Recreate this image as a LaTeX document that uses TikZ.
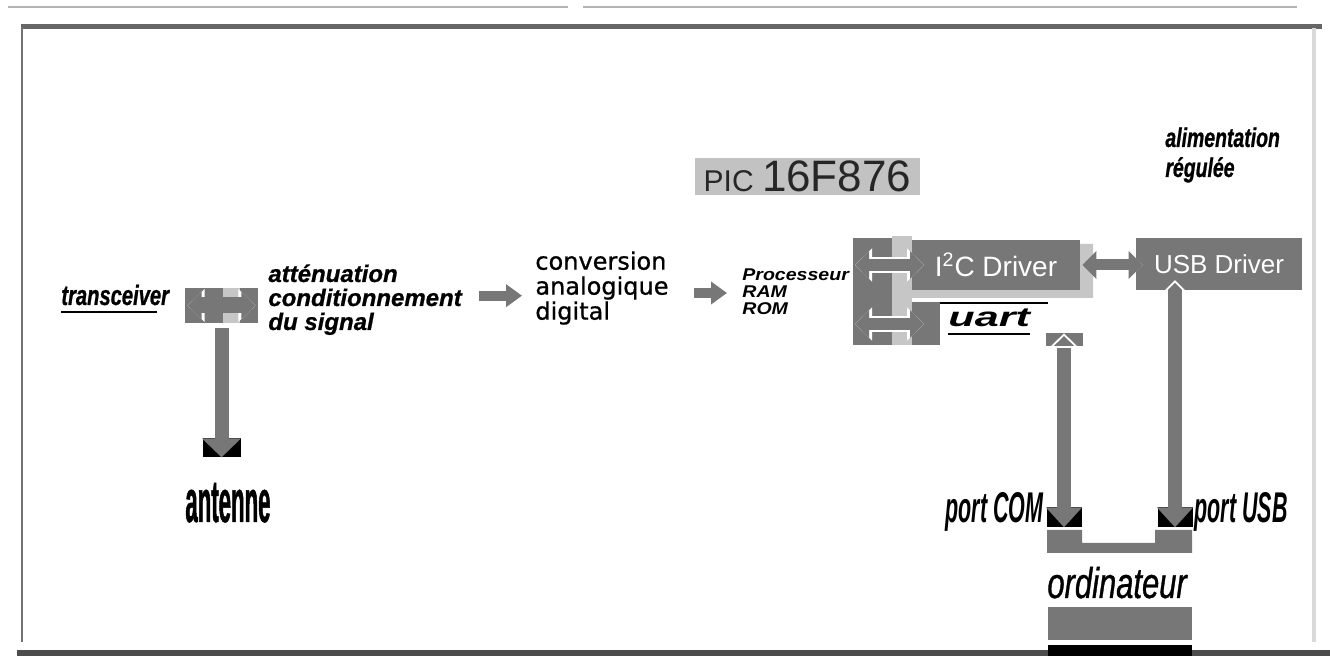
\documentclass[tikz,border=0pt]{standalone}
\usepackage{fontspec}
\setmainfont{Liberation Sans}
\newfontfamily\verdfont[FakeBold=0.8]{DejaVu Sans}
\newfontfamily\attfont[FakeBold=0.8]{Liberation Sans}
\newfontfamily\narrowfont[FakeStretch=0.37, FakeBold=0.8]{Liberation Sans}
\newfontfamily\portfont[FakeStretch=0.5]{Liberation Sans}
\newfontfamily\labfont[FakeStretch=0.72, FakeBold=0.8]{Liberation Sans}
\newfontfamily\notefont[FakeStretch=1.15]{Liberation Sans}
\newfontfamily\widefont[FakeStretch=1.6]{Liberation Sans}
\usetikzlibrary{arrows.meta, positioning}

\definecolor{boxgray}{HTML}{777777}
\definecolor{stripgray}{HTML}{C6C6C6}
\definecolor{labelgray}{HTML}{C2C2C2}

\begin{document}
\begin{tikzpicture}[x=0.5pt, y=-0.5pt,
    block/.style={fill=boxgray, inner sep=0pt},
    dflow/.style={draw=boxgray, line width=6pt,
      {Triangle[width=13.5pt, length=7pt]}-{Triangle[width=13.5pt, length=7pt]},
      preaction={draw=white, line width=7.8pt,
        {Triangle[width=16pt, length=8.5pt]}-{Triangle[width=16pt, length=8.5pt]}}},
    flow/.style={draw=boxgray, line width=5pt, -{Triangle[width=11pt, length=8pt]}},
    headbox/.style={fill=black, inner sep=0pt, minimum width=17.5pt, minimum height=10pt},
    link/.style={draw=boxgray, line width=7pt, -{Triangle[width=17.5pt, length=10pt]}},
    lbl/.style={inner sep=0pt, align=left}]

  % Canvas of the picture (pixels)
  \useasboundingbox (0,0) rectangle (1330,656);

  % Frame
  \draw[black!30, line width=0.8pt] (8,7) -- (568,7) (583,7) -- (1297,7);
  \draw[black!60, line width=2.5pt] (21,26.5) -- (1322,26.5);
  \draw[black!55, line width=1.2pt] (22,27) -- (22,642);
  \draw[black!15, line width=2pt] (1314,28) -- (1314,642);
  \draw[black!70, line width=3pt] (17,653) -- (1330,653);

  % Transceiver and antenna
  \node[lbl, anchor=base west, font=\labfont\fontsize{14}{15}\selectfont\bfseries\itshape] (xcvrLabel) at (61,305) {transceiver};
  \draw[line width=1.2pt] ([yshift=-3.5pt]xcvrLabel.base west) -- ([xshift=-6pt, yshift=-3.5pt]xcvrLabel.base east);
  \node[block, minimum width=36.5pt, minimum height=17.5pt] (xcvr) at (221.5,305.5) {};
  \fill[stripgray] (223,288) rectangle (240,323);
  \draw[dflow, line width=8pt] ([xshift=1.5pt]xcvr.west) -- ([xshift=-1.5pt]xcvr.east);
  \node[headbox, minimum width=19pt, minimum height=9.5pt] (antHead) at (221.5,447.5) {};
  \draw[link, -{Triangle[width=19pt, length=9.5pt]}, shorten <=2.5pt] (xcvr.south) -- (antHead.south);
  \node[lbl, anchor=base west, font=\narrowfont\fontsize{30}{30}\selectfont\bfseries] (antLabel) at (185,522) {antenne};

  % Signal chain
  \node[lbl, anchor=north west, font=\attfont\fontsize{12}{12}\selectfont\bfseries\itshape] (attLabel) at (268,264) {atténuation\\conditionnement\\du signal};
  \node[lbl, anchor=north west, font=\verdfont\fontsize{12}{12.5}\selectfont] (convLabel) at (535,251) {conversion\\analogique\\digital};
  \node[lbl, anchor=north west, font=\notefont\fontsize{8.5}{8.5}\selectfont\bfseries\itshape] (procLabel) at (742,268) {Processeur\\RAM\\ROM};
  \coordinate (convIn) at (attLabel.east -| convLabel.west);
  \coordinate (procIn) at (convLabel.east -| procLabel.west);
  \draw[flow] ([xshift=8.5pt, yshift=2pt]attLabel.east) -- ([xshift=-6.5pt, yshift=2pt]convIn);
  \draw[flow] ([xshift=12.5pt, yshift=-2.5pt]convLabel.east) -- ([xshift=-7.5pt, yshift=-2.5pt]procIn);

  % PIC label
  \node[fill=labelgray, inner sep=0pt, minimum width=112.5pt, minimum height=18.5pt, text=black!85] (picLabel) at (807.5,176.5) {\fontsize{15}{15}\selectfont PIC \fontsize{22}{22}\selectfont 16F876};

  % PIC block
  \fill[boxgray] (853,238) rectangle (892,345);
  \fill[stripgray] (892,236) rectangle (912,345);
  \fill[stripgray] (912,289) rectangle (1093,298) (1080,244) rectangle (1093,298);
  \fill[boxgray] (912,302) rectangle (940,345);
  \draw[black, line width=0.8pt] (940,303) -- (1048,303);
  \node[block, minimum width=84pt, minimum height=25pt, text=white, font=\fontsize{14}{14}\selectfont] (i2c) at (996,265) {I\textsuperscript{2}C Driver};
  \coordinate (procL) at (855,265);
  \coordinate (procR) at (924,265);
  \coordinate (uartL) at (855,324);
  \coordinate (uartR) at (924,324);
  \draw[dflow] (procL) -- (procR);
  \draw[dflow] (uartL) -- (uartR);
  \node[lbl, anchor=base west, font=\widefont\fontsize{13.5}{14}\selectfont\bfseries\itshape] (uartLabel) at (948,327) {uart};
  \draw[line width=1pt] ([yshift=-3.5pt]uartLabel.base west) -- ([yshift=-3.5pt]uartLabel.base east);

  % USB driver and supply
  \node[block, minimum width=83pt, minimum height=26pt, text=white, font=\fontsize{13}{14}\selectfont] (usb) at (1219,264) {USB Driver};
  \coordinate (busEnd) at (i2c.east -| usb.west);
  \draw[dflow, line width=5.5pt] ([xshift=1pt]i2c.east) -- ([xshift=3.5pt]busEnd);
  \node[lbl, anchor=north west, font=\labfont\fontsize{13.5}{15}\selectfont\bfseries\itshape] (alimLabel) at (1165,127) {alimentation\\régulée};

  % Links to the computer ports
  \node[block, minimum width=18.5pt, minimum height=6.5pt] (uartPort) at (1064,339.5) {};
  \node[headbox] (comHead) at (1064,517) {};
  \node[headbox] (usbHead) at (1175,517) {};
  \coordinate (usbTop) at (usbHead.north |- usb.south);
  \draw[link, shorten <=1pt] (uartPort.south) -- (comHead.south);
  \draw[link] (usbTop) -- (usbHead.south);
  \draw[white, line width=0.9pt] ([xshift=-6pt]uartPort.south) -- ([yshift=-1pt]uartPort.north) -- ([xshift=6pt]uartPort.south);
  \draw[white, line width=0.9pt] ([xshift=-7.5pt, yshift=-3pt]usbTop) -- ([yshift=4.5pt]usbTop) -- ([xshift=7.5pt, yshift=-3pt]usbTop);

  % Computer
  \fill[boxgray] (1047,530) -- (1082,530) -- (1082,543) -- (1155,543) -- (1155,530) -- (1192,530) -- (1192,553) -- (1047,553) -- cycle;
  \node[lbl, anchor=base west, font=\labfont\fontsize{21.5}{22}\selectfont\itshape] (pcLabel) at (1047,598) {ordinateur};
  \fill[boxgray] (1048,607) rectangle (1192,640);
  \fill[black] (1048,645) rectangle (1192,656);
  \node[lbl, anchor=base east, font=\portfont\fontsize{21.5}{22}\selectfont\bfseries\itshape] (comLabel) at (1044,523) {port COM};
  \node[lbl, anchor=base west, font=\portfont\fontsize{21.5}{22}\selectfont\bfseries\itshape] (usbLabel) at (1194,523) {port USB};
\end{tikzpicture}
\end{document}
